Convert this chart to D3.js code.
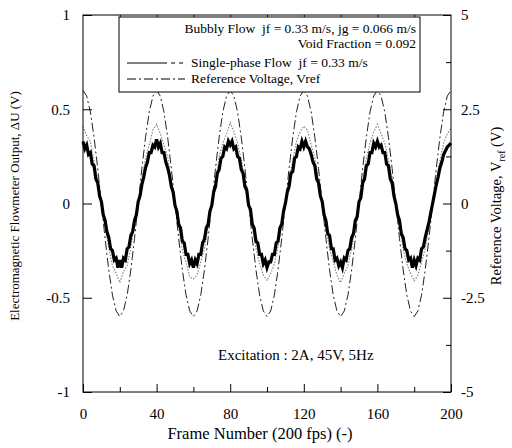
<!DOCTYPE html>
<html>
<head>
<meta charset="UTF-8">
<script src="https://d3js.org/d3.v7.min.js"></script>
<style>
body { margin: 0; background: #fff; }
text { font-family: "Liberation Serif", "DejaVu Serif", serif; fill: #000; }
</style>
</head>
<body>
<svg width="512" height="448"></svg>
<script>
// frame axis ticks / voltage ticks
var frameTicks = [0, 40, 80, 120, 160, 200];
var leftTicks = [-1, -0.5, 0, 0.5, 1];
var rightTicks = [-5, -2.5, 0, 2.5, 5];

// bubbly flow output, one value per frame (0..200)
var bubbly = [
 0.33,0.29,0.31,0.26,0.27,0.21,0.20,0.13,0.11,0.04,0.01,-0.06,-0.09,-0.15,-0.18,-0.24,-0.25,-0.30,-0.29,-0.34,
 -0.30,-0.34,-0.29,-0.30,-0.24,-0.23,-0.17,-0.15,-0.09,-0.06,0.01,0.04,0.10,0.14,0.19,0.22,0.27,0.27,0.31,0.30,
 0.34,0.30,0.32,0.27,0.27,0.22,0.19,0.15,0.09,0.06,-0.01,-0.04,-0.11,-0.13,-0.20,-0.21,-0.27,-0.27,-0.32,-0.30,
 -0.34,-0.30,-0.32,-0.27,-0.27,-0.21,-0.19,-0.13,-0.11,-0.04,-0.01,0.06,0.09,0.16,0.18,0.24,0.25,0.30,0.29,0.33,
 0.31,0.33,0.29,0.30,0.25,0.24,0.18,0.16,0.09,0.07,-0.01,-0.03,-0.11,-0.13,-0.20,-0.21,-0.27,-0.27,-0.32,-0.30,
 -0.34,-0.31,-0.31,-0.27,-0.27,-0.21,-0.20,-0.13,-0.11,-0.04,0.00,0.06,0.09,0.16,0.17,0.24,0.25,0.30,0.29,0.33,
 0.30,0.33,0.30,0.29,0.26,0.22,0.20,0.13,0.11,0.04,0.01,-0.06,-0.09,-0.16,-0.17,-0.24,-0.24,-0.30,-0.29,-0.33,
 -0.31,-0.34,-0.29,-0.30,-0.25,-0.24,-0.18,-0.16,-0.09,-0.07,0.01,0.03,0.11,0.13,0.20,0.21,0.27,0.27,0.32,0.30,
 0.33,0.30,0.31,0.27,0.27,0.21,0.20,0.13,0.11,0.04,0.00,-0.06,-0.09,-0.16,-0.18,-0.24,-0.25,-0.30,-0.29,-0.34,
 -0.30,-0.33,-0.29,-0.30,-0.24,-0.23,-0.18,-0.14,-0.10,-0.05,0.00,0.05,0.10,0.14,0.19,0.22,0.26,0.28,0.30,0.31,
 0.32
];

// single-phase flow output, every 2nd frame
var single = [
 0.41,0.36,0.33,0.22,0.13,-0.01,-0.13,-0.23,-0.33,-0.37,-0.42,-0.36,-0.33,-0.23,-0.11,0.01,0.13,0.24,0.31,0.39,
 0.42,0.37,0.31,0.25,0.11,0.00,-0.12,-0.25,-0.31,-0.39,-0.40,-0.38,-0.31,-0.24,-0.13,0.01,0.11,0.25,0.32,0.37,
 0.43,0.38,0.32,0.23,0.12,-0.01,-0.12,-0.24,-0.32,-0.38,-0.41,-0.37,-0.32,-0.23,-0.12,0.00,0.12,0.23,0.33,0.38,
 0.41,0.39,0.31,0.24,0.12,0.01,-0.13,-0.24,-0.31,-0.38,-0.42,-0.37,-0.33,-0.24,-0.11,0.00,0.12,0.24,0.32,0.38,
 0.42,0.37,0.32,0.23,0.13,-0.01,-0.12,-0.24,-0.32,-0.37,-0.41,-0.38,-0.31,-0.24,-0.12,0.00,0.12,0.23,0.32,0.37,
 0.40
];

// reference voltage (V), every 2nd frame
var vref = [
 3.0,2.85,2.43,1.76,0.93,0,-0.93,-1.76,-2.43,-2.85,-3.0,-2.85,-2.43,-1.76,-0.93,0,0.93,1.76,2.43,2.85,
 3.0,2.85,2.43,1.76,0.93,0,-0.93,-1.76,-2.43,-2.85,-3.0,-2.85,-2.43,-1.76,-0.93,0,0.93,1.76,2.43,2.85,
 3.0,2.85,2.43,1.76,0.93,0,-0.93,-1.76,-2.43,-2.85,-3.0,-2.85,-2.43,-1.76,-0.93,0,0.93,1.76,2.43,2.85,
 3.0,2.85,2.43,1.76,0.93,0,-0.93,-1.76,-2.43,-2.85,-3.0,-2.85,-2.43,-1.76,-0.93,0,0.93,1.76,2.43,2.85,
 3.0,2.85,2.43,1.76,0.93,0,-0.93,-1.76,-2.43,-2.85,-3.0,-2.85,-2.43,-1.76,-0.93,0,0.93,1.76,2.43,2.85,
 3.0
];

var svg = d3.select("svg");
var L = 83, R = 451, T = 15, B = 392;

var x = d3.scaleLinear().domain([0, 200]).range([L, R]);
var y = d3.scaleLinear().domain([-1, 1]).range([B, T]);
var y2 = d3.scaleLinear().domain([-5, 5]).range([B, T]);

var plot = svg.append("g");

// curves
var lineL = function(step) {
  return d3.line().x(function(d, i) { return x(i * step); }).y(function(d) { return y(d); });
};

plot.append("path")
  .attr("d", d3.line().x(function(d, i) { return x(i * 2); }).y(function(d) { return y2(d); })(vref))
  .attr("fill", "none").attr("stroke", "#222").attr("stroke-width", 1)
  .attr("stroke-dasharray", "9,3,2,3");

plot.append("path")
  .attr("d", lineL(2)(single))
  .attr("fill", "none").attr("stroke", "#888").attr("stroke-width", 1.2)
  .attr("stroke-dasharray", "1.5,1.5");

plot.append("path")
  .attr("d", lineL(1)(bubbly))
  .attr("fill", "none").attr("stroke", "#000").attr("stroke-width", 3.2)
  .attr("stroke-linejoin", "miter");

// frame
svg.append("rect").attr("x", L).attr("y", T).attr("width", R - L).attr("height", B - T)
  .attr("fill", "none").attr("stroke", "#000").attr("stroke-width", 1);

// axes
var fmt = function(d) { return String(d); };
var gb = svg.append("g").attr("transform", "translate(0," + B + ")")
  .call(d3.axisBottom(x).tickValues(frameTicks).tickSize(-8).tickPadding(16).tickFormat(fmt));
var gbm = svg.append("g").attr("transform", "translate(0," + B + ")")
  .call(d3.axisBottom(x).tickValues([20, 60, 100, 140, 180]).tickSize(-5).tickFormat(""));
var gt = svg.append("g").attr("transform", "translate(0," + T + ")")
  .call(d3.axisTop(x).tickValues([20, 40, 60, 80, 100, 120, 140, 160, 180]).tickSize(-6).tickFormat(""));
var gl = svg.append("g").attr("transform", "translate(" + L + ",0)")
  .call(d3.axisLeft(y).tickValues(leftTicks).tickSize(-9).tickPadding(13).tickFormat(fmt));
var gr = svg.append("g").attr("transform", "translate(" + R + ",0)")
  .call(d3.axisRight(y2).tickValues(rightTicks).tickSize(-8).tickPadding(10).tickFormat(fmt));
var grm = svg.append("g").attr("transform", "translate(" + R + ",0)")
  .call(d3.axisRight(y2).tickValues([-3.75, -1.25, 1.25, 3.75]).tickSize(-5).tickFormat(""));

[gb, gbm, gt, gl, gr, grm].forEach(function(g) {
  g.select(".domain").remove();
  g.selectAll("line").attr("stroke", "#000");
  g.selectAll("text").attr("font-size", 15).attr("font-family", "Liberation Serif").attr("fill", "#000");
});

// axis titles
svg.append("text").attr("x", (L + R) / 2 - 7).attr("y", 439).attr("text-anchor", "middle")
  .attr("font-size", 16.5).text("Frame Number (200 fps) (-)");
svg.append("text").attr("transform", "translate(19," + 206 + ") rotate(-90)")
  .attr("text-anchor", "middle").attr("font-size", 13)
  .text("Electromagnetic Flowmeter Output, \u0394U (V)");
var rt = svg.append("text").attr("transform", "translate(501," + 206 + ") rotate(-90)")
  .attr("text-anchor", "middle").attr("font-size", 14.5);
rt.append("tspan").text("Reference Voltage, V");
rt.append("tspan").attr("font-size", 10).attr("dy", 4).text("ref");
rt.append("tspan").attr("dy", -4).text(" (V)");

// annotation
svg.append("text").attr("x", 218).attr("y", 360).attr("font-size", 15)
  .text("Excitation : 2A, 45V, 5Hz");

// legend
var lg = svg.append("g");
lg.append("rect").attr("x", 119).attr("y", 17).attr("width", 301).attr("height", 75)
  .attr("fill", "#fff").attr("stroke", "#000").attr("stroke-width", 1);
lg.append("text").attr("x", 416).attr("y", 33).attr("text-anchor", "end").attr("font-size", 13.5)
  .attr("xml:space", "preserve").text("Bubbly Flow  jf = 0.33 m/s, jg = 0.066 m/s");
lg.append("text").attr("x", 416).attr("y", 48).attr("text-anchor", "end").attr("font-size", 13.5)
  .text("Void Fraction = 0.092");
lg.append("line").attr("x1", 127).attr("x2", 185).attr("y1", 63).attr("y2", 63)
  .attr("stroke", "#000").attr("stroke-dasharray", "40,4,4,4,4");
lg.append("text").attr("x", 191).attr("y", 67).attr("font-size", 13.5)
  .attr("xml:space", "preserve").text("Single-phase Flow  jf = 0.33 m/s");
lg.append("line").attr("x1", 127).attr("x2", 185).attr("y1", 79).attr("y2", 79)
  .attr("stroke", "#000").attr("stroke-dasharray", "9,3,2,3");
lg.append("text").attr("x", 191).attr("y", 83).attr("font-size", 13.5)
  .text("Reference Voltage, Vref");
</script>
</body>
</html>
